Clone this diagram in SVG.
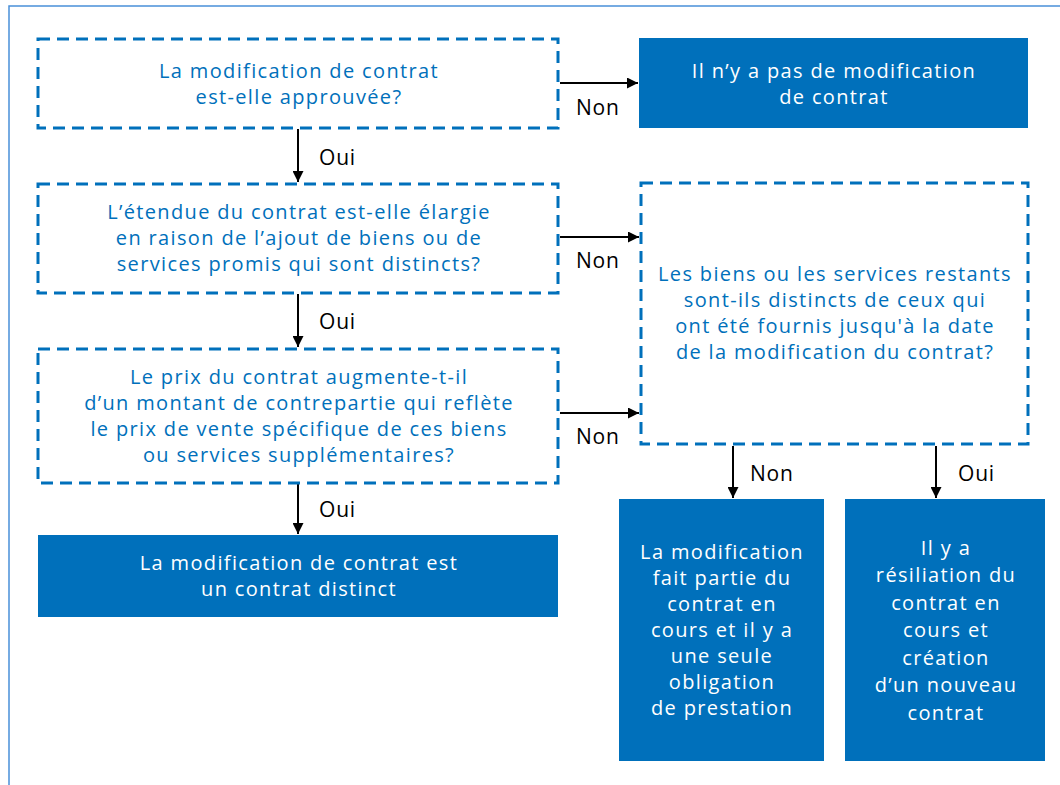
<svg xmlns="http://www.w3.org/2000/svg" width="1060" height="785" viewBox="0 0 1060 785">
<style>
.q{fill:#fff;stroke:#0070BB;stroke-width:3;stroke-dasharray:12 7}
.f{fill:#0070BB}
.tq{font-family:"Open Sans","Liberation Sans",sans-serif;font-size:20px;letter-spacing:1.35px;fill:#0070BB;text-anchor:middle}
.tf{font-family:"Open Sans","Liberation Sans",sans-serif;font-size:20px;letter-spacing:1.35px;fill:#fff;text-anchor:middle}
.lb{font-family:"Open Sans","Liberation Sans",sans-serif;font-size:21px;letter-spacing:0.8px;fill:#000}
.c{stroke:#000;stroke-width:2;fill:none;marker-end:url(#ah)}
</style>
<defs>
<marker id="ah" viewBox="0 0 10 10" refX="10" refY="5" markerWidth="5.5" markerHeight="5.5" orient="auto" markerUnits="strokeWidth">
<path d="M0,0 L10,5 L0,10 z" fill="#000"/>
</marker>
</defs>
<rect width="1060" height="785" fill="#fff"/>
<path d="M9,785 V6 H1060" fill="none" stroke="#4A90D9" stroke-width="1.5"/>
<g id="connectors">
<line class="c" x1="560" y1="83" x2="638" y2="83"/>
<line class="c" x1="298" y1="129" x2="298" y2="182"/>
<line class="c" x1="560" y1="237" x2="639" y2="237"/>
<line class="c" x1="298" y1="294" x2="298" y2="347"/>
<line class="c" x1="560" y1="413" x2="639" y2="413"/>
<line class="c" x1="298" y1="484" x2="298" y2="534"/>
<line class="c" x1="733" y1="446" x2="733" y2="498"/>
<line class="c" x1="936" y1="446" x2="936" y2="498"/>
<text class="lb" x="576" y="115">Non</text>
<text class="lb" x="319" y="165">Oui</text>
<text class="lb" x="576" y="268">Non</text>
<text class="lb" x="319" y="329">Oui</text>
<text class="lb" x="576" y="444">Non</text>
<text class="lb" x="319" y="517">Oui</text>
<text class="lb" x="750" y="481">Non</text>
<text class="lb" x="958" y="481">Oui</text>
</g>
<g id="n1">
<rect class="q" x="38" y="39" width="520" height="89"/>
<text class="tq" x="299" y="78">La modification de contrat</text>
<text class="tq" x="299" y="104">est-elle approuvée?</text>
</g>
<g id="n2">
<rect class="f" x="639" y="38" width="389" height="90"/>
<text class="tf" x="834" y="78">Il n’y a pas de modification</text>
<text class="tf" x="834" y="104">de contrat</text>
</g>
<g id="n3">
<rect class="q" x="38" y="184" width="520" height="109"/>
<text class="tq" x="299" y="219">L’étendue du contrat est-elle élargie</text>
<text class="tq" x="299" y="245">en raison de l’ajout de biens ou de</text>
<text class="tq" x="299" y="271">services promis qui sont distincts?</text>
</g>
<g id="n4">
<rect class="q" x="38" y="349" width="520" height="134"/>
<text class="tq" x="299" y="384">Le prix du contrat augmente-t-il</text>
<text class="tq" x="299" y="410">d’un montant de contrepartie qui reflète</text>
<text class="tq" x="299" y="436">le prix de vente spécifique de ces biens</text>
<text class="tq" x="299" y="462">ou services supplémentaires?</text>
</g>
<g id="n5">
<rect class="f" x="38" y="535" width="520" height="82"/>
<text class="tf" x="299" y="570">La modification de contrat est</text>
<text class="tf" x="299" y="596">un contrat distinct</text>
</g>
<g id="n6">
<rect class="q" x="641" y="183" width="387" height="261"/>
<text class="tq" x="835" y="281">Les biens ou les services restants</text>
<text class="tq" x="835" y="307">sont-ils distincts de ceux qui</text>
<text class="tq" x="835" y="333">ont été fournis jusqu'à la date</text>
<text class="tq" x="835" y="359">de la modification du contrat?</text>
</g>
<g id="n7">
<rect class="f" x="619" y="499" width="205" height="262"/>
<text class="tf" x="722" y="559">La modification</text>
<text class="tf" x="722" y="585">fait partie du</text>
<text class="tf" x="722" y="611">contrat en</text>
<text class="tf" x="722" y="637">cours et il y a</text>
<text class="tf" x="722" y="663">une seule</text>
<text class="tf" x="722" y="689">obligation</text>
<text class="tf" x="722" y="715">de prestation</text>
</g>
<g id="n8">
<rect class="f" x="845" y="499" width="200" height="262"/>
<text class="tf" x="946" y="555">Il y a</text>
<text class="tf" x="946" y="582">résiliation du</text>
<text class="tf" x="946" y="610">contrat en</text>
<text class="tf" x="946" y="637">cours et</text>
<text class="tf" x="946" y="665">création</text>
<text class="tf" x="946" y="692">d’un nouveau</text>
<text class="tf" x="946" y="720">contrat</text>
</g>
</svg>
